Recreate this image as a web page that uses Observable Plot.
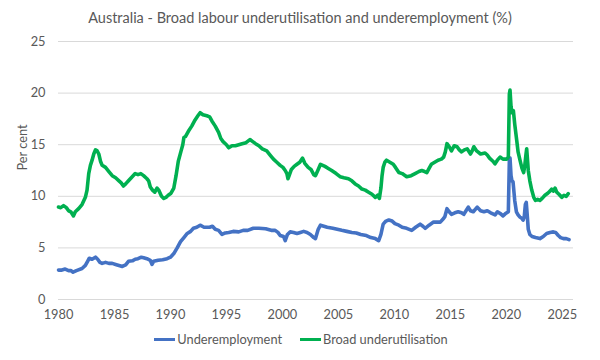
<!DOCTYPE html>
<html><head><meta charset="utf-8">
<script src="https://cdn.jsdelivr.net/npm/d3@7"></script>
<script src="https://cdn.jsdelivr.net/npm/@observablehq/plot@0.6"></script>
<style>
body{margin:0;background:#fff;font-family:Lato,"Noto Sans",sans-serif;}
#wrap{width:600px;height:360px;position:relative;overflow:hidden;background:#fff;}
#title{height:28px;padding-top:0;box-sizing:border-box;text-align:center;font-size:14.5px;line-height:36px;color:#595959;}
#chart{height:297px;}
#legend{display:flex;justify-content:center;align-items:center;gap:18px;font-size:12.8px;color:#595959;margin-top:6px;padding-left:2px;}
.item{display:flex;align-items:center;}
.sw{width:21px;height:3px;margin-right:2px;}
</style></head>
<body>
<div id="wrap">
  <div id="title">Australia - Broad labour underutilisation and underemployment (%)</div>
  <div id="chart"></div>
  <div id="legend"></div>
</div>
<script>
const seriesNames = ["Underemployment", "Broad underutilisation"];
const seriesColors = ["#4472C4", "#00B050"];
const xTicks = [1980, 1985, 1990, 1995, 2000, 2005, 2010, 2015, 2020, 2025];
const yTicks = [0, 5, 10, 15, 20, 25];

const broadYears = [1980.0,1980.2,1980.45,1980.7,1980.9,1981.1,1981.34,1981.5,1981.8,1982.1,1982.4,1982.55,1982.7,1982.85,1983.0,1983.15,1983.3,1983.45,1983.6,1983.75,1983.9,1984.2,1984.5,1984.8,1985.1,1985.4,1985.6,1985.8,1986.0,1986.25,1986.5,1986.85,1987.1,1987.35,1987.6,1987.9,1988.05,1988.2,1988.4,1988.6,1988.8,1988.95,1989.2,1989.4,1989.6,1989.8,1990.05,1990.3,1990.5,1990.7,1990.95,1991.1,1991.2,1991.35,1991.6,1991.9,1992.2,1992.45,1992.65,1992.9,1993.25,1993.5,1993.7,1994.0,1994.3,1994.5,1994.7,1995.0,1995.2,1995.5,1995.8,1996.1,1996.4,1996.75,1997.1,1997.35,1997.6,1997.9,1998.2,1998.6,1998.9,1999.2,1999.5,1999.8,2000.05,2000.25,2000.4,2000.5,2000.6,2000.8,2001.05,2001.3,2001.55,2001.8,2002.0,2002.3,2002.55,2002.8,2002.95,2003.2,2003.4,2003.6,2003.8,2004.1,2004.4,2004.8,2005.15,2005.5,2005.9,2006.2,2006.5,2006.8,2007.1,2007.4,2007.7,2008.0,2008.3,2008.5,2008.66,2008.8,2008.9,2009.0,2009.15,2009.3,2009.6,2009.9,2010.1,2010.4,2010.7,2011.1,2011.5,2011.85,2012.2,2012.45,2012.7,2012.9,2013.1,2013.3,2013.6,2013.9,2014.2,2014.4,2014.55,2014.7,2014.9,2015.1,2015.35,2015.6,2015.8,2016.0,2016.25,2016.5,2016.8,2016.95,2017.1,2017.35,2017.7,2018.1,2018.3,2018.5,2018.8,2018.99,2019.2,2019.44,2019.7,2020.04,2020.18,2020.27,2020.33,2020.42,2020.5,2020.63,2020.75,2020.93,2021.05,2021.22,2021.4,2021.55,2021.65,2021.75,2021.82,2021.9,2021.96,2022.1,2022.27,2022.45,2022.6,2022.8,2023.0,2023.2,2023.45,2023.7,2023.9,2024.05,2024.2,2024.35,2024.5,2024.7,2024.95,2025.15,2025.35,2025.53];
const broadValues = [8.96,8.9,9.1,8.9,8.6,8.5,8.1,8.5,8.8,9.2,9.9,10.6,12.2,13.0,13.5,14.1,14.5,14.4,14.1,13.4,13.0,12.8,12.4,12.0,11.8,11.5,11.3,11.0,11.2,11.5,11.8,12.2,12.1,12.2,12.0,11.7,11.5,10.9,10.6,10.4,10.8,10.6,10.0,9.8,9.9,10.1,10.3,10.8,12.0,13.4,14.4,15.0,15.7,15.8,16.3,16.8,17.4,17.8,18.1,17.9,17.8,17.7,17.3,16.8,16.2,15.6,15.3,15.0,14.7,14.9,14.9,15.0,15.1,15.2,15.5,15.3,15.1,14.9,14.6,14.4,14.0,13.6,13.3,13.0,12.8,12.5,12.2,11.7,12.0,12.6,12.9,13.1,13.3,13.7,13.2,12.8,12.6,12.1,12.0,12.6,13.1,13.0,12.9,12.7,12.5,12.2,11.9,11.8,11.7,11.5,11.2,11.0,10.7,10.6,10.4,10.2,9.9,10.1,9.8,10.8,12.0,12.8,13.3,13.5,13.3,13.1,12.8,12.3,12.2,11.9,12.0,12.2,12.4,12.5,12.4,12.3,12.7,13.1,13.3,13.5,13.6,13.8,14.3,15.1,14.8,14.4,14.9,14.8,14.5,14.3,14.5,14.6,14.1,14.4,14.8,14.4,14.1,14.2,14.0,13.7,13.4,13.15,13.5,13.8,13.6,13.6,13.8,19.9,20.3,18.7,18.1,18.3,17.0,15.4,14.3,13.5,12.7,12.3,13.0,14.0,14.6,13.4,12.5,11.5,10.6,9.9,9.6,9.7,9.6,9.8,10.1,10.3,10.5,10.7,10.5,10.8,10.4,10.2,9.9,10.1,10.0,10.25];

const underYears = [1980.0,1980.3,1980.6,1980.9,1981.1,1981.3,1981.6,1982.1,1982.4,1982.6,1982.75,1983.0,1983.3,1983.5,1983.7,1983.9,1984.2,1984.5,1984.8,1985.1,1985.4,1985.7,1986.0,1986.25,1986.6,1986.85,1987.1,1987.4,1987.6,1987.9,1988.2,1988.35,1988.5,1988.9,1989.3,1989.7,1990.0,1990.3,1990.6,1990.9,1991.2,1991.5,1991.8,1992.05,1992.35,1992.65,1993.0,1993.5,1993.75,1994.0,1994.3,1994.6,1994.9,1995.2,1995.6,1996.1,1996.5,1996.9,1997.4,1997.9,1998.5,1999.0,1999.35,1999.6,1999.8,2000.1,2000.25,2000.45,2000.7,2001.0,2001.3,2001.6,2001.9,2002.2,2002.5,2002.8,2002.95,2003.2,2003.4,2003.7,2004.0,2004.5,2004.9,2005.3,2005.75,2006.2,2006.6,2007.0,2007.5,2007.9,2008.3,2008.6,2008.8,2009.0,2009.25,2009.5,2009.8,2010.05,2010.4,2010.7,2011.1,2011.55,2011.9,2012.3,2012.55,2012.75,2013.1,2013.5,2013.8,2014.1,2014.35,2014.5,2014.7,2014.9,2015.1,2015.4,2015.7,2016.0,2016.2,2016.4,2016.6,2016.8,2017.05,2017.4,2017.7,2018.0,2018.3,2018.6,2019.0,2019.2,2019.5,2019.7,2019.9,2020.18,2020.27,2020.33,2020.42,2020.5,2020.6,2020.75,2020.9,2021.05,2021.2,2021.35,2021.5,2021.6,2021.7,2021.78,2021.88,2021.96,2022.1,2022.3,2022.6,2023.0,2023.3,2023.6,2023.9,2024.2,2024.4,2024.64,2024.85,2025.1,2025.35,2025.6];
const underValues = [2.85,2.85,2.95,2.8,2.8,2.65,2.8,3.0,3.3,3.7,4.0,3.9,4.1,3.9,3.6,3.5,3.6,3.5,3.5,3.4,3.3,3.2,3.35,3.7,3.75,3.9,3.95,4.1,4.05,3.95,3.8,3.4,3.7,3.8,3.85,3.95,4.1,4.45,5.0,5.6,6.0,6.4,6.6,6.9,7.0,7.2,7.0,7.0,7.1,6.8,6.7,6.3,6.45,6.5,6.6,6.55,6.7,6.7,6.9,6.9,6.85,6.7,6.7,6.5,6.2,6.1,5.7,6.3,6.55,6.5,6.4,6.5,6.6,6.5,6.3,6.0,5.9,6.8,7.2,7.1,7.0,6.9,6.8,6.7,6.6,6.5,6.45,6.3,6.2,6.0,5.9,5.7,6.3,7.3,7.6,7.7,7.6,7.35,7.2,7.0,6.9,6.7,7.0,7.3,7.1,6.9,7.2,7.5,7.5,7.5,7.8,8.0,8.8,8.5,8.25,8.4,8.5,8.4,8.25,8.6,8.95,8.6,8.5,8.95,8.6,8.5,8.6,8.4,8.2,8.5,8.3,8.1,8.3,8.5,13.4,13.7,12.0,11.5,11.4,9.6,8.5,8.2,8.0,7.9,7.7,8.0,9.2,9.4,8.0,6.8,6.3,6.1,6.0,5.9,6.1,6.4,6.5,6.55,6.5,6.2,6.0,5.9,5.9,5.8];

const broadData = broadYears.map((x, i) => ({year: x, value: broadValues[i]}));
const underData = underYears.map((x, i) => ({year: x, value: underValues[i]}));

const chart = Plot.plot({
  width: 600, height: 297,
  marginTop: 13, marginLeft: 58, marginRight: 27, marginBottom: 26,
  style: {fontFamily: "Lato, 'Noto Sans', sans-serif", fontSize: "12.8px", color: "#595959", background: "#fff"},
  x: {domain: [1980, 2026]},
  y: {domain: [0, 25]},
  marks: [
    Plot.ruleY(yTicks, {stroke: "#d9d9d9", strokeWidth: 1}),
    Plot.axisX({ticks: xTicks, tickSize: 0, tickPadding: 10, tickFormat: d => String(d), label: null, fill: "#595959"}),
    Plot.axisY({ticks: yTicks, tickSize: 0, tickPadding: 13, label: null, fill: "#595959"}),
    Plot.text(["Per cent"], {frameAnchor: "left", text: d => d, rotate: -90, dx: -36, fill: "#595959", fontSize: 12.8}),
    Plot.line(underData, {x: "year", y: "value", stroke: seriesColors[0], strokeWidth: 3.6, strokeLinejoin: "round"}),
    Plot.line(broadData, {x: "year", y: "value", stroke: seriesColors[1], strokeWidth: 3.6, strokeLinejoin: "round"})
  ]
});
document.getElementById("chart").appendChild(chart);

const legend = document.getElementById("legend");
seriesNames.forEach((name, i) => {
  const it = document.createElement("div");
  it.className = "item";
  const sw = document.createElement("span");
  sw.className = "sw";
  sw.style.background = seriesColors[i];
  const t = document.createElement("span");
  t.textContent = name;
  it.appendChild(sw); it.appendChild(t);
  legend.appendChild(it);
});
</script>
</body></html>
